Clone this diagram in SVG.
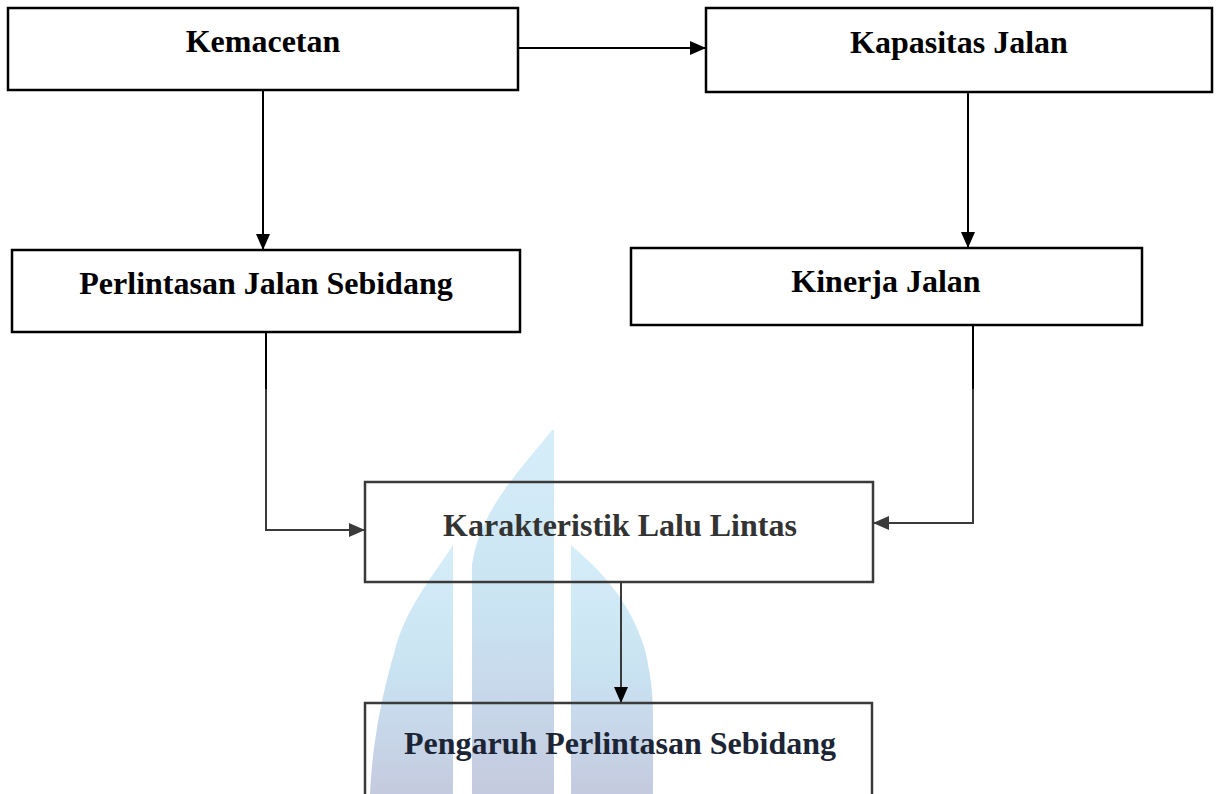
<svg xmlns="http://www.w3.org/2000/svg" width="1220" height="794" viewBox="0 0 1220 794">
  <style>
    .box { fill: none; stroke: #000; stroke-width: 2.5; }
    .box2 { fill: none; stroke: #3a3a3a; stroke-width: 2.5; }
    .lbl { font-family: "Liberation Serif", "Times New Roman", serif; font-weight: bold; font-size: 32px; text-anchor: middle; fill: #000; }
    .conn { fill: none; stroke: #000; stroke-width: 2; }
    .conn2 { fill: none; stroke: #3a3a3a; stroke-width: 2; }
  </style>
  <defs>
    <marker id="ah" markerUnits="userSpaceOnUse" markerWidth="16" markerHeight="16" viewBox="0 0 16 16" refX="16" refY="8" orient="auto">
      <path d="M0,1 L16,8 L0,15 Z" fill="#000"/>
    </marker>
    <marker id="ah2" markerUnits="userSpaceOnUse" markerWidth="16" markerHeight="16" viewBox="0 0 16 16" refX="16" refY="8" orient="auto">
      <path d="M0,1 L16,8 L0,15 Z" fill="#3a3a3a"/>
    </marker>
    <linearGradient id="wm" x1="0" y1="0" x2="0" y2="1">
      <stop offset="0" stop-color="#d6eef9"/>
      <stop offset="0.5" stop-color="#c9e3f2"/>
      <stop offset="1" stop-color="#c4cadf"/>
    </linearGradient>
  </defs>
  <rect width="1220" height="794" fill="#fff"/>

  <g id="watermark" fill="url(#wm)">
    <path d="M453,545 C430,580 405,610 395,650 C380,700 372,750 370,794 L453,794 Z"/>
    <path d="M552,430 C520,470 480,510 472,565 L472,794 L554,794 L554,430 Z"/>
    <path d="M571,545 C600,570 630,600 645,650 C652,680 653,700 653,720 L653,794 L571,794 Z"/>
  </g>

  <g id="connectors">
    <path class="conn" d="M518,48 H706" marker-end="url(#ah)"/>
    <path class="conn" d="M263,90 V250" marker-end="url(#ah)"/>
    <path class="conn" d="M968,92 V248" marker-end="url(#ah)"/>
    <path class="conn" d="M266,332 V390"/>
    <path class="conn2" d="M266,389 V530 H365" marker-end="url(#ah2)"/>
    <path class="conn" d="M973,325 V390"/>
    <path class="conn2" d="M973,389 V523 H873" marker-end="url(#ah2)"/>
    <path class="conn2" d="M621,582 V703" stroke="#1f2a38" marker-end="url(#ah)"/>
  </g>

  <g id="kemacetan">
    <rect class="box" x="8" y="8" width="510" height="82"/>
    <text class="lbl" x="263" y="52">Kemacetan</text>
  </g>
  <g id="kapasitas-jalan">
    <rect class="box" x="706" y="8" width="506" height="84"/>
    <text class="lbl" x="959" y="53">Kapasitas Jalan</text>
  </g>
  <g id="perlintasan-jalan-sebidang">
    <rect class="box" x="12" y="250" width="508" height="82"/>
    <text class="lbl" x="266" y="294">Perlintasan Jalan Sebidang</text>
  </g>
  <g id="kinerja-jalan">
    <rect class="box" x="631" y="248" width="511" height="77"/>
    <text class="lbl" x="886" y="292">Kinerja Jalan</text>
  </g>
  <g id="karakteristik-lalu-lintas">
    <rect class="box2" x="365" y="482" width="508" height="100"/>
    <text class="lbl" x="620" y="536" style="fill:#333">Karakteristik Lalu Lintas</text>
  </g>
  <g id="pengaruh-perlintasan-sebidang">
    <rect class="box2" x="365" y="703" width="507" height="120"/>
    <text class="lbl" x="620" y="754" style="fill:#1c2535">Pengaruh Perlintasan Sebidang</text>
  </g>
</svg>
